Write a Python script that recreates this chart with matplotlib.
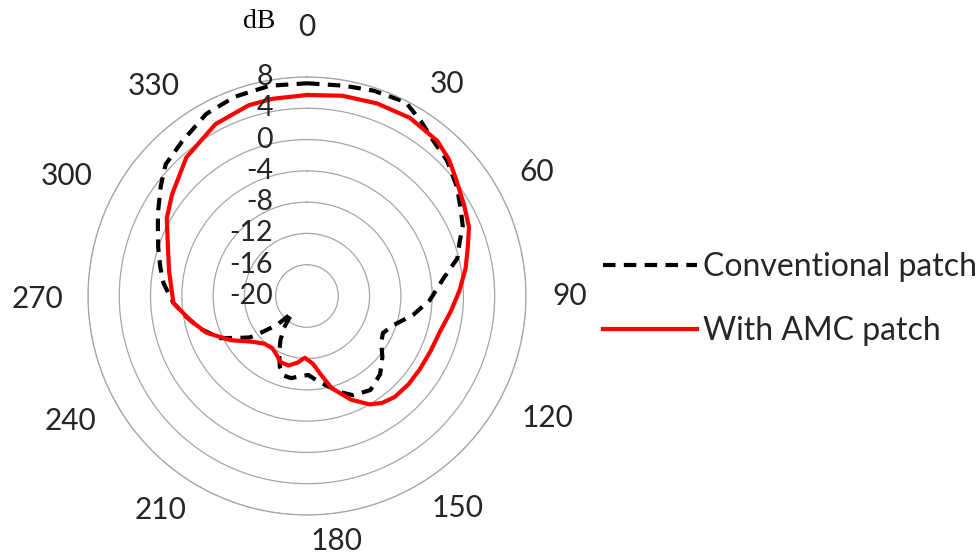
import numpy as np
import matplotlib
matplotlib.use("Agg")
import matplotlib.pyplot as plt
from matplotlib import transforms

# angles in degrees (clockwise from top), gain in dB
conv_angles = [0, 10, 18, 27, 33, 39, 46, 54, 61, 66, 70, 76, 83, 92, 100, 109,
               116, 122, 129, 137, 146, 155, 161, 166, 172, 179, 185, 191, 196,
               201, 206, 211, 216, 221.5, 226, 231, 234, 237, 244, 253, 260,
               267, 275, 281, 288, 293, 299, 307, 313, 321, 331, 340, 350]
conv_db = [7.2, 7.3, 7.6, 7.8, 6.7, 5.6, 4.9, 3.7, 2.5, 1.8, 0.8, -0.2, -2.5,
           -4.3, -6.2, -8.4, -9.2, -8.8, -7.6, -6.3, -5.5, -6.0, -7.0, -8.0,
           -8.9, -9.9, -9.7, -9.3, -9.4, -10.3, -11.9, -13.4, -15.0, -17.1,
           -14.7, -12.7, -11.0, -10.2, -7.7, -5.7, -4.4, -2.9, -1.6, -0.9, 0.0,
           0.7, 1.8, 3.4, 4.7, 5.4, 6.6, 7.1, 7.3]

amc_angles = [0, 10, 20, 30, 40, 46, 52, 60, 67, 73, 80, 88, 96, 105, 114,
              123, 131, 139, 145, 150, 157, 165, 170, 175, 182, 188, 195, 202,
              208, 214, 222, 230, 240, 250, 258, 267, 280, 289, 299, 307, 319,
              332, 343, 350]
amc_db = [5.7, 6.0, 6.2, 6.3, 5.9, 5.2, 4.2, 3.2, 2.5, 1.5, 0.6, -0.5, -1.5,
          -2.4, -2.7, -2.8, -2.8, -2.9, -3.3, -4.0, -5.6, -7.8, -9.8, -11.3,
          -12.1, -11.4, -10.8, -10.9, -11.6, -12.0, -11.8, -10.9, -8.7, -6.3,
          -4.8, -2.9, -2.1, -1.2, 0.5, 1.6, 3.5, 4.9, 5.5, 5.6]

r_ticks = [-20, -16, -12, -8, -4, 0, 4, 8]
theta_ticks = list(range(0, 360, 30))

plt.rcParams['font.family'] = ['Lato', 'DejaVu Sans']
W, H = 980, 556
TXT = '#262626'

fig = plt.figure(figsize=(W / 100, H / 100), dpi=100)
ax = fig.add_axes([88 / W, 1 - 515 / H, 438 / W, 438 / H], projection='polar')
ax.set_theta_zero_location('N')
ax.set_theta_direction(-1)
ax.set_rlim(-20, 8)

def closed(a, v):
    t = np.deg2rad(np.array(a + [a[0] + 360]))
    return t, np.array(v + [v[0]])

t, v = closed(conv_angles, conv_db)
ax.plot(t, v, color='black', lw=3, linestyle=(0, (3, 2)), label='Conventional patch')
t, v = closed(amc_angles, amc_db)
ax.plot(t, v, color='#ff0000', lw=3, label='With AMC patch')

# grid: circles only
ax.set_rticks(r_ticks)
ax.set_yticklabels([])
ax.set_xticks(np.deg2rad(theta_ticks))
ax.set_xticklabels([])
ax.xaxis.grid(False)
ax.yaxis.grid(True, color='#a6a6a6', lw=0.9)
ax.spines['polar'].set_color('#a6a6a6')
ax.spines['polar'].set_linewidth(0.9)
ax.tick_params(length=0)

# radial labels, right aligned just left of the 0 degree axis
off = transforms.offset_copy(ax.transData, fig=fig, x=-34, y=0, units='dots')
for r in r_ticks:
    ax.text(0, r, str(r), transform=off, ha='right', va='center',
            fontsize=20.5, color=TXT)

# angle labels (pixel centres as placed in the original)
label_pos = {0: (307, 27), 30: (447, 84), 60: (537, 172), 90: (570, 296),
             120: (547, 418), 150: (458, 508), 180: (337, 541), 210: (161, 510),
             240: (70, 421), 270: (37, 299), 300: (67, 176), 330: (154, 86)}
for a in theta_ticks:
    x, y = label_pos[a]
    fig.text(x / W, 1 - y / H, str(a), ha='center', va='center',
             fontsize=21.5, color=TXT)

fig.text(259 / W, 1 - 21 / H, 'dB', family='Liberation Serif', fontsize=20,
         ha='center', va='center')

ax.legend(loc='center left', bbox_to_anchor=(603 / W, 1 - 299 / H),
          bbox_transform=fig.transFigure, frameon=False, fontsize=23,
          handlelength=2.94, handletextpad=0.19, labelspacing=1.05,
          borderpad=0, borderaxespad=0, labelcolor=TXT)

fig.savefig('out.png', dpi=100)
